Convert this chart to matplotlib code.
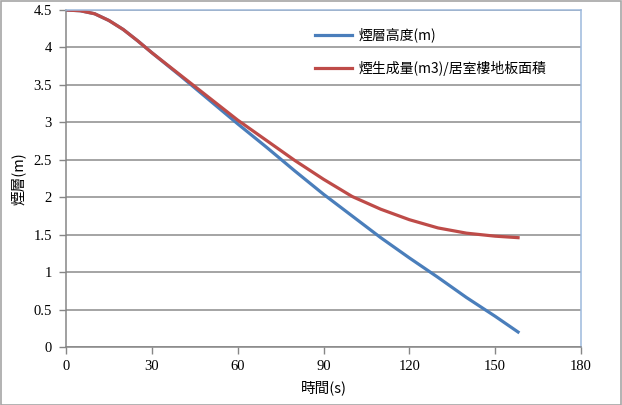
"""Smoke layer height vs smoke volume per floor area chart."""
import matplotlib
matplotlib.use("Agg")
import matplotlib.pyplot as plt  # type: ignore

# time (s)
time_blue = [0, 5, 10, 15, 20, 25, 30, 40, 50, 60, 70, 80, 90, 100, 110, 120, 130, 140, 150, 158]
layer_height = [4.5, 4.49, 4.45, 4.36, 4.24, 4.09, 3.93, 3.62, 3.30, 2.98, 2.67, 2.35, 2.04,
                1.75, 1.46, 1.19, 0.93, 0.66, 0.41, 0.2]

time_red = [0, 5, 10, 15, 20, 25, 30, 40, 50, 60, 70, 80, 90, 100, 110, 120, 130, 140, 150, 158]
smoke_ratio = [4.5, 4.49, 4.45, 4.36, 4.24, 4.09, 3.93, 3.63, 3.33, 3.03, 2.76, 2.49, 2.24,
               2.01, 1.84, 1.70, 1.59, 1.52, 1.48, 1.46]

legend_labels = ["煙層高度(m)", "煙生成量(m3)/居室樓地板面積"]
x_ticks = [0, 30, 60, 90, 120, 150, 180]
y_ticks = [0, 0.5, 1, 1.5, 2, 2.5, 3, 3.5, 4, 4.5]
y_tick_labels = ["0", "0.5", "1", "1.5", "2", "2.5", "3", "3.5", "4", "4.5"]

cjk = ["Noto Sans CJK TC", "DejaVu Sans"]
num_font = "Liberation Serif"

fig = plt.figure(figsize=(6.22, 4.05), dpi=100)
fig.patch.set_facecolor("white")
# outer frame
fig.patches.append(plt.Rectangle((0.001, 0.001), 0.997, 0.997, transform=fig.transFigure,
                                 fill=False, edgecolor="#A6A6A6", linewidth=1.2))

ax = fig.add_axes([66 / 622, 58 / 405, 515 / 622, 337 / 405])
ax.plot(time_blue, layer_height, color="#4A7EBB", linewidth=2.3, label=legend_labels[0],
        solid_joinstyle="round")
ax.plot(time_red, smoke_ratio, color="#BE4B48", linewidth=2.3, label=legend_labels[1],
        solid_joinstyle="round")

ax.set_xlim(0, 180)
ax.set_ylim(0, 4.5)
ax.set_xticks(x_ticks)
ax.set_yticks(y_ticks)
ax.set_xticklabels([str(t) for t in x_ticks], fontname=num_font, fontsize=10.5)
ax.set_yticklabels(y_tick_labels, fontname=num_font, fontsize=10.5)
ax.tick_params(axis="both", direction="out", length=5, color="#868686", width=1)
ax.tick_params(axis="x", pad=4)
ax.tick_params(axis="y", pad=5)

ax.yaxis.grid(True, color="#8C8C8C", linewidth=1.1)
ax.set_axisbelow(True)
for side in ("left", "bottom"):
    ax.spines[side].set_color("#868686")
    ax.spines[side].set_linewidth(1.1)
for side in ("top", "right"):
    ax.spines[side].set_color("#9DB9DC")
    ax.spines[side].set_linewidth(1.1)

ax.set_xlabel("時間(s)", family=cjk, fontsize=10.5, labelpad=6)
ax.set_ylabel("煙層(m)", family=cjk, fontsize=10.5, labelpad=6)

leg = ax.legend(loc="upper left", bbox_to_anchor=(0.46, 0.985), frameon=False,
                prop={"family": cjk, "size": 10}, handlelength=2.6, labelspacing=1.3,
                handletextpad=0.5)

fig.savefig("out.png", dpi=100)
